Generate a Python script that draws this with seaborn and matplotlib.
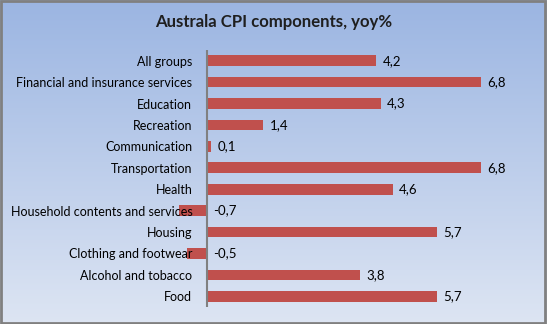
import numpy as np
import pandas as pd
import matplotlib
matplotlib.use("Agg")
import matplotlib.pyplot as plt
import seaborn as sns
from matplotlib.colors import LinearSegmentedColormap

categories = ["All groups", "Financial and insurance services", "Education", "Recreation",
              "Communication", "Transportation", "Health", "Household contents and services",
              "Housing", "Clothing and footwear", "Alcohol and tobacco", "Food"]
values = [4.2, 6.8, 4.3, 1.4, 0.1, 6.8, 4.6, -0.7, 5.7, -0.5, 3.8, 5.7]
title = "Australa CPI components, yoy%"

df = pd.DataFrame({"cat": categories, "val": values})

sns.set_theme(style="white")
plt.rcParams['font.family'] = ['Lato', 'DejaVu Sans']

W, H = 547, 324
fig = plt.figure(figsize=(W / 100, H / 100), dpi=100)

# gradient background
bg = fig.add_axes([0, 0, 1, 1], zorder=-10)
cmap = LinearSegmentedColormap.from_list("g", ["#9BB5E2", "#DDE5F3"])
grad = np.linspace(0, 1, 256).reshape(-1, 1)
bg.imshow(grad, aspect="auto", cmap=cmap, extent=[0, 1, 0, 1], origin="upper")
bg.set_xlim(0, 1); bg.set_ylim(0, 1)
bg.axis("off")
bg.add_patch(plt.Rectangle((0.001, 0.003), 0.995, 0.994, fill=False, edgecolor="#808080",
                           lw=2, transform=bg.transAxes))

# axes placement in pixels
L, R, T, B = 150, 520, 50, 307
zero_px, scale = 207, 40.35
ax = fig.add_axes([L / W, 1 - B / H, (R - L) / W, (B - T) / H])
ax.patch.set_alpha(0)

sns.barplot(data=df, x="val", y="cat", orient="h", color="#C0504D", saturation=1,
            width=0.5, ax=ax, zorder=1, linewidth=0, edgecolor="none")
ax.set_xlim((L - zero_px) / scale, (R - zero_px) / scale)
ax.set_ylim(len(categories) - 0.5, -0.5)

for s in ax.spines.values():
    s.set_visible(False)
ax.axvline(0, color="#808080", lw=1.5, zorder=3)
ax.set_xticks([])
ax.set_xlabel("")
ax.set_ylabel("")
ax.tick_params(axis="y", length=0, pad=-30.5, labelsize=9, labelcolor="#000000")
for lab in ax.get_yticklabels():
    lab.set_horizontalalignment("right")
    lab.set_zorder(5)
ax.yaxis.set_zorder(5)

for i, v in enumerate(values):
    x = max(v, 0)
    ax.annotate(f"{v:.1f}".replace(".", ","), xy=(x, i), xytext=(4.5, 0),
                textcoords="offset points", va="center", ha="left", fontsize=9.5,
                color="#000000")

fig.text(0.5, 1 - 22 / H, title, ha="center", va="center", fontsize=12.1,
         fontweight="bold", color="#1F1F1F")

fig.savefig("out.png", dpi=100)
